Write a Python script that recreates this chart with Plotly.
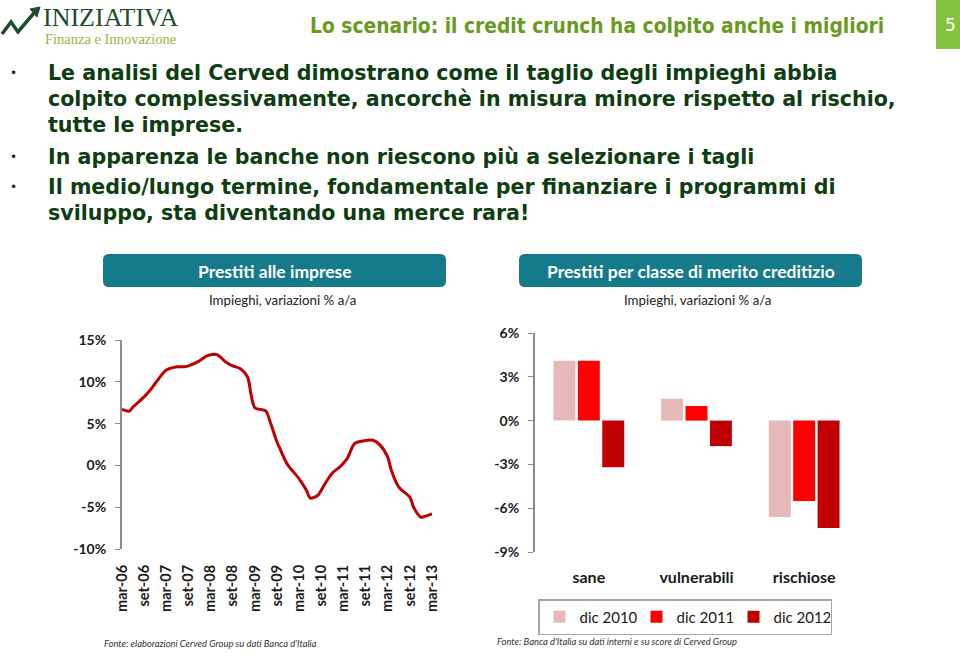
import plotly.graph_objects as go

W, H = 960, 653

# ---------------- data ----------------
month_index = [0, 2, 3, 6, 8, 10, 12, 15, 17, 18, 21, 23, 25, 26, 28, 30, 32, 34, 35, 36,
               39, 40, 42, 43, 44, 45, 48, 50, 51, 53, 55, 57, 59, 61, 63, 65, 68, 70, 72,
               73, 75, 78, 79, 81, 82, 84]
loan_growth = [6.7, 6.5, 7.0, 8.2, 9.2, 10.4, 11.4, 11.8, 11.8, 11.9, 12.5, 13.1, 13.3, 13.2,
               12.4, 11.9, 11.6, 10.6, 8.4, 6.9, 6.5, 5.4, 2.8, 1.8, 0.8, 0.0, -1.6, -3.0,
               -3.9, -3.6, -2.2, -0.9, -0.2, 0.8, 2.6, 2.9, 3.0, 2.4, 1.0, -0.6, -2.6, -3.8,
               -5.0, -6.2, -6.1, -5.8]
date_ticks = [0, 6, 12, 18, 24, 30, 36, 42, 48, 54, 60, 66, 72, 78, 84]
date_labels = ["mar-06", "set-06", "mar-07", "set-07", "mar-08", "set-08", "mar-09", "set-09",
               "mar-10", "set-10", "mar-11", "set-11", "mar-12", "set-12", "mar-13"]
left_yticks = [-10, -5, 0, 5, 10, 15]
left_ylabels = ["-10%", "-5%", "0%", "5%", "10%", "15%"]

classes = ["sane", "vulnerabili", "rischiose"]
dic2010 = [4.1, 1.5, -6.6]
dic2011 = [4.1, 1.0, -5.5]
dic2012 = [-3.2, -1.75, -7.35]
series_names = ["dic 2010", "dic 2011", "dic 2012"]
series_colors = ["#e6b9b8", "#ff0000", "#c00000"]
right_yticks = [-9, -6, -3, 0, 3, 6]
right_ylabels = ["-9%", "-6%", "-3%", "0%", "3%", "6%"]


def X(px):
    return px / W


def Y(py):
    return 1 - py / H


LEFT_RANGE = [-10, 15]
RIGHT_RANGE = [-9, 6]
left_xdom = [X(122), X(432)]
left_ydom = [Y(549), Y(340)]
right_xdom = [X(535), X(858)]
right_ydom = [Y(552), Y(333)]


def zero_pos(dom, rng):
    return dom[0] + (0 - rng[0]) / (rng[1] - rng[0]) * (dom[1] - dom[0])


fig = go.Figure()

fig.add_trace(go.Scatter(
    x=month_index, y=loan_growth, mode="lines",
    line=dict(color="#c00000", width=3, shape="spline", smoothing=0.8),
    xaxis="x", yaxis="y", showlegend=False, hoverinfo="skip"))

for name, vals, col in zip(series_names, [dic2010, dic2011, dic2012], series_colors):
    fig.add_trace(go.Bar(x=classes, y=vals, name=name, marker=dict(color=col, line=dict(width=0)),
                         xaxis="x2", yaxis="y2"))

axis_grey = "#8c8c8c"
tick_font = dict(family="Lato, Arial", size=14, color="#1a1a1a", weight="bold")

fig.update_layout(
    width=W, height=H, margin=dict(l=0, r=0, t=0, b=0, pad=0, autoexpand=False),
    paper_bgcolor="white", plot_bgcolor="rgba(0,0,0,0)",
    barmode="group", bargap=0.32, bargroupgap=0.1,
    xaxis=dict(domain=left_xdom, range=[0, 84], anchor="y", showline=False, showgrid=False,
               zeroline=False, ticks="", tickvals=date_ticks, ticktext=date_labels,
               tickangle=-90, ticklabelstandoff=12, automargin=False,
               tickfont=dict(family="Lato, Arial", size=14.5, color="#1a1a1a", weight="bold")),
    xaxis3=dict(overlaying="x", anchor="free", position=zero_pos(left_ydom, LEFT_RANGE),
                range=[0, 84], showline=True, linecolor=axis_grey, linewidth=2,
                ticks="outside", ticklen=6, tickwidth=1.5, tickcolor=axis_grey, automargin=False,
                tickvals=date_ticks, showticklabels=False, showgrid=False, zeroline=False),
    yaxis=dict(domain=left_ydom, range=LEFT_RANGE, anchor="x", showgrid=False, zeroline=False,
               showline=True, linecolor=axis_grey, linewidth=2, ticks="outside", ticklen=5,
               tickcolor=axis_grey, tickvals=left_yticks, ticktext=left_ylabels, automargin=False,
               ticklabelstandoff=6, tickfont=tick_font),
    xaxis2=dict(domain=right_xdom, anchor="y2", showline=False, showgrid=False, zeroline=False,
                ticks="", ticklabelstandoff=14, automargin=False,
                tickfont=dict(family="Lato, Arial", size=16, color="#1a1a1a", weight="bold")),
    xaxis4=dict(overlaying="x2", anchor="free", position=zero_pos(right_ydom, RIGHT_RANGE),
                range=[-0.5, 2.5], showline=True, linecolor=axis_grey, linewidth=2,
                ticks="outside", ticklen=6, tickwidth=1.5, tickcolor=axis_grey, automargin=False,
                tickvals=[0.5, 1.5, 2.5], showticklabels=False, showgrid=False, zeroline=False),
    yaxis2=dict(domain=right_ydom, range=RIGHT_RANGE, anchor="x2", showgrid=False, zeroline=False,
                showline=True, linecolor=axis_grey, linewidth=2, ticks="outside", ticklen=5,
                tickcolor=axis_grey, tickvals=right_yticks, ticktext=right_ylabels, automargin=False,
                ticklabelstandoff=6, tickfont=tick_font),
    legend=dict(orientation="h", x=X(538), y=Y(599), xanchor="left", yanchor="top",
                bordercolor="#a6a6a6", borderwidth=1.5, bgcolor="white",
                font=dict(family="Lato, Arial", size=15, color="#1a1a1a"),
                entrywidth=52, entrywidthmode="pixels", itemwidth=30,
                traceorder="normal"),
    showlegend=True,
)

shapes = []
annotations = []


def rounded_rect(x0, y0, x1, y1, r):
    # pixel coords, y downward
    pts = (f"M {X(x0 + r)} {Y(y0)} L {X(x1 - r)} {Y(y0)} Q {X(x1)} {Y(y0)} {X(x1)} {Y(y0 + r)} "
           f"L {X(x1)} {Y(y1 - r)} Q {X(x1)} {Y(y1)} {X(x1 - r)} {Y(y1)} "
           f"L {X(x0 + r)} {Y(y1)} Q {X(x0)} {Y(y1)} {X(x0)} {Y(y1 - r)} "
           f"L {X(x0)} {Y(y0 + r)} Q {X(x0)} {Y(y0)} {X(x0 + r)} {Y(y0)} Z")
    return pts


teal = "#157b8a"
for (x0, x1, title, sub_x) in [(103, 446, "Prestiti alle imprese", 282),
                               (519, 862, "Prestiti per classe di merito creditizio", 697)]:
    shapes.append(dict(type="path", xref="paper", yref="paper",
                       path=rounded_rect(x0, 254, x1, 287, 6),
                       fillcolor=teal, line=dict(width=0)))
    annotations.append(dict(text=title, x=X((x0 + x1) / 2), y=Y(271), xref="paper", yref="paper",
                            showarrow=False, xanchor="center", yanchor="middle",
                            font=dict(family="Lato, Arial", size=17.5, color="white", weight="bold")))
    annotations.append(dict(text="Impieghi, variazioni % a/a", x=X(sub_x), y=Y(300),
                            xref="paper", yref="paper", showarrow=False,
                            xanchor="center", yanchor="middle",
                            font=dict(family="Lato, Arial", size=13.3, color="#222222")))

# header
shapes.append(dict(type="rect", xref="paper", yref="paper", x0=X(936), x1=X(960), y0=Y(49), y1=Y(0),
                   fillcolor="#82c341", line=dict(width=0)))
annotations.append(dict(text="5", x=X(950), y=Y(25), xref="paper", yref="paper", showarrow=False,
                        xanchor="center", yanchor="middle",
                        font=dict(family="DejaVu Sans", size=17, color="white")))
annotations.append(dict(text="Lo scenario: il credit crunch ha colpito anche i migliori",
                        x=X(886), y=Y(26), xref="paper", yref="paper", showarrow=False,
                        xanchor="right", yanchor="middle",
                        font=dict(family="DejaVu Sans Condensed, DejaVu Sans", size=20.8,
                                  color="#6a9a1f", weight="bold")))

# logo
logo_green = "#1d4d2c"
arrow = [(2, 34), (11, 22), (18, 32), (34, 13)]
path = "M " + " L ".join(f"{X(a)} {Y(b)}" for a, b in arrow)
shapes.append(dict(type="path", xref="paper", yref="paper", path=path,
                   line=dict(color=logo_green, width=3.5)))
shapes.append(dict(type="path", xref="paper", yref="paper",
                   path=f"M {X(30)} {Y(9)} L {X(40)} {Y(7)} L {X(37)} {Y(17)} Z",
                   fillcolor=logo_green, line=dict(color=logo_green, width=1)))
annotations.append(dict(text="INIZIATIVA", x=X(41), y=Y(17), xref="paper", yref="paper",
                        showarrow=False, xanchor="left", yanchor="middle",
                        font=dict(family="Liberation Serif", size=26, color=logo_green)))
annotations.append(dict(text="Finanza e Innovazione", x=X(43), y=Y(39), xref="paper", yref="paper",
                        showarrow=False, xanchor="left", yanchor="middle",
                        font=dict(family="Liberation Serif", size=14.5, color="#a3b23f")))

# bullets
text_green = "#0f3d12"
body_font = dict(family="DejaVu Sans", size=20.6, color=text_green, weight="bold")
lines = [
    (73, True, "Le analisi del Cerved dimostrano come il taglio degli impieghi abbia"),
    (99, False, "colpito complessivamente, ancorchè in misura minore rispetto al rischio,"),
    (125, False, "tutte le imprese."),
    (157, True, "In apparenza le banche non riescono più a selezionare i tagli"),
    (187, True, "Il medio/lungo termine, fondamentale per finanziare i programmi di"),
    (213, False, "sviluppo, sta diventando una merce rara!"),
]
for yy, bullet, txt in lines:
    annotations.append(dict(text=txt, x=X(46), y=Y(yy), xref="paper", yref="paper",
                            showarrow=False, xanchor="left", yanchor="middle", font=body_font))
    if bullet:
        annotations.append(dict(text="•", x=X(13), y=Y(yy), xref="paper", yref="paper",
                                showarrow=False, xanchor="center", yanchor="middle",
                                font=dict(family="DejaVu Sans", size=12, color="#111111")))

# footers
foot_font = dict(family="Lato, Arial", size=9.4, color="#333333", style="italic")
annotations.append(dict(text="Fonte: elaborazioni Cerved Group su dati Banca d'Italia",
                        x=X(102), y=Y(643), xref="paper", yref="paper", showarrow=False,
                        xanchor="left", yanchor="middle", font=foot_font))
annotations.append(dict(text="Fonte: Banca d'Italia su dati interni e su score di Cerved Group",
                        x=X(495), y=Y(641), xref="paper", yref="paper", showarrow=False,
                        xanchor="left", yanchor="middle", font=foot_font))

fig.update_layout(shapes=shapes, annotations=annotations)
fig.write_html("out.html", config={"displayModeBar": False},
               post_script="document.body.style.margin='0';document.body.style.overflow='hidden';")
